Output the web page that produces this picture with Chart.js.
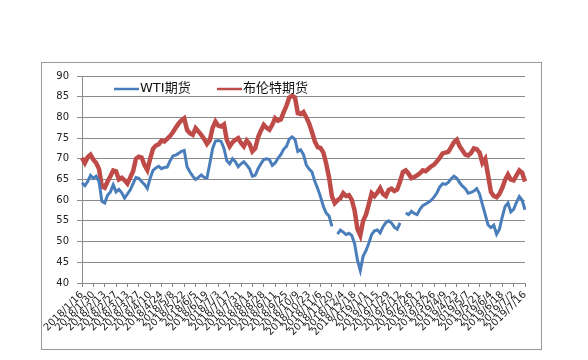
<!DOCTYPE html>
<html>
<head>
<meta charset="utf-8">
<script src="https://cdn.jsdelivr.net/npm/chart.js@4.4.1/dist/chart.umd.min.js"></script>
<style>
  body { margin: 0; background: #fff; }
  canvas { display: block; background: #fff; }
</style>
</head>
<body>
<canvas id="oilChart" width="588" height="360"></canvas>
<script>
// --- Datos ---
// Etiquetas del eje X (cada 2 semanas)
const tickLabels = [
    '2018/1/16', '2018/1/30', '2018/2/13', '2018/2/27', '2018/3/13', '2018/3/27', '2018/4/10', '2018/4/24',
    '2018/5/8', '2018/5/22', '2018/6/5', '2018/6/19', '2018/7/3', '2018/7/17', '2018/7/31', '2018/8/14',
    '2018/8/28', '2018/9/11', '2018/9/25', '2018/10/9', '2018/10/23', '2018/11/6', '2018/11/20', '2018/12/4',
    '2018/12/18', '2019/1/1', '2019/1/15', '2019/1/29', '2019/2/12', '2019/2/26', '2019/3/12', '2019/3/26',
    '2019/4/9', '2019/4/23', '2019/5/7', '2019/5/21', '2019/6/4', '2019/6/18', '2019/7/2', '2019/7/16'
];
const pointsPerTick = 4; // puntos de datos entre dos etiquetas

const seriesNames = ['WTI期货', '布伦特期货'];

// WTI (null = día sin cotización)
const wtiValues = [
    64.2, 63.5, 64.5, 66.0, 65.3, 65.8, 64.5, 59.7, 59.3, 61.2,
    62.0, 63.7, 62.0, 62.6, 61.8, 60.5, 61.5, 62.5, 64.0, 65.5,
    65.3, 64.5, 63.8, 62.8, 65.3, 67.2, 67.8, 68.2, 67.6, 67.9,
    68.0, 69.5, 70.7, 70.9, 71.3, 71.8, 72.0, 68.1, 66.8, 65.8,
    65.0, 65.5, 66.1, 65.5, 65.4, 68.8, 72.5, 74.3, 74.4, 74.2,
    72.5, 69.5, 68.8, 70.0, 69.3, 68.1, 68.8, 69.3, 68.5, 67.6,
    65.8, 66.0, 67.6, 68.8, 69.8, 70.0, 69.8, 68.4, 69.0, 70.1,
    71.0, 72.3, 73.0, 74.8, 75.3, 74.7, 71.8, 72.2, 71.0, 68.5,
    67.5, 66.8, 64.5, 62.8, 60.8, 58.5, 56.9, 56.2, 53.7, null,
    51.8, 52.8, 52.3, 51.7, 52.0, 51.5, 49.5, 45.5, 43.0, 46.5,
    47.8, 49.6, 51.7, 52.6, 52.8, 52.1, 53.6, 54.6, 55.0, 54.5,
    53.5, 53.0, 54.5, null, 56.9, 56.5, 57.3, 56.8, 56.5, 57.8,
    58.7, 59.1, 59.5, 60.0, 60.8, 61.8, 63.2, 64.0, 63.8, 64.3,
    65.2, 65.8, 65.3, 64.2, 63.4, 62.8, 61.7, 61.9, 62.2, 62.8,
    61.5, 59.0, 56.5, 54.0, 53.4, 54.0, 51.8, 53.0, 56.0, 58.5,
    59.3, 57.2, 57.8, 59.5, 60.9, 60.0, 57.7
];

// Brent
const brentValues = [
    70.2, 69.0, 70.4, 71.0, 69.8, 69.0, 67.5, 63.3, 63.0, 64.5,
    65.8, 67.2, 67.0, 65.0, 65.4, 64.8, 64.0, 65.5, 67.0, 70.0,
    70.5, 70.3, 68.5, 67.3, 70.0, 72.4, 73.2, 73.5, 74.4, 74.2,
    74.8, 75.5, 76.4, 77.5, 78.5, 79.3, 79.8, 77.0, 76.2, 75.8,
    77.4, 76.6, 75.8, 74.8, 73.6, 74.5, 77.5, 79.0, 78.0, 77.8,
    78.3, 74.5, 73.0, 74.0, 74.6, 75.0, 73.8, 73.0, 74.4, 73.6,
    71.8, 72.5, 75.2, 76.8, 78.2, 77.5, 77.0, 78.2, 79.8, 79.2,
    79.5, 81.2, 82.8, 84.8, 85.2, 84.8, 81.0, 80.8, 81.3, 80.0,
    78.5, 76.4, 74.2, 72.8, 72.6, 71.5, 68.8, 65.5, 61.0, 59.3,
    60.0, 60.5, 61.7, 61.0, 61.2, 60.1, 57.5, 53.0, 51.5, 55.0,
    56.5, 59.0, 61.7, 61.0, 61.8, 62.9, 61.5, 61.0, 62.5, 62.8,
    62.2, 62.6, 64.5, 66.8, 67.2, 66.4, 65.3, 65.6, 66.0, 66.5,
    67.2, 67.0, 67.6, 68.2, 68.6, 69.4, 70.3, 71.3, 71.5, 71.7,
    72.8, 74.0, 74.6, 73.0, 72.0, 71.0, 70.8, 71.4, 72.5, 72.3,
    71.5, 69.0, 70.0, 66.0, 62.0, 61.0, 60.7, 61.5, 63.0, 64.9,
    66.2, 65.0, 64.8, 66.0, 67.2, 66.6, 64.5
];

const yMin = 40;
const yMax = 90;
const yStep = 5;

// Categorías: una por punto, con la fecha sólo donde va una etiqueta
const categories = wtiValues.map((_, i) => (i % pointsPerTick === 0 ? tickLabels[i / pointsPerTick] : ''));

const axisFont = { family: '"DejaVu Sans", sans-serif', size: 10 };

// --- Plugins ---
// Marco exterior del gráfico (estilo Excel)
const framePlugin = {
    id: 'outerFrame',
    afterDraw(chart) {
        const c = chart.ctx;
        c.save();
        c.strokeStyle = '#9a9a9a';
        c.lineWidth = 1;
        c.strokeRect(41.5, 62.5, 500, 287);
        c.restore();
    }
};

// Leyenda dentro del área del gráfico
const insideLegendPlugin = {
    id: 'insideLegend',
    afterDatasetsDraw(chart) {
        const c = chart.ctx;
        const area = chart.chartArea;
        const offsets = [32, 135];
        const y = area.top + 13;
        c.save();
        c.font = '13px "DejaVu Sans", "Noto Sans CJK SC", sans-serif';
        c.textBaseline = 'middle';
        chart.data.datasets.forEach((ds, i) => {
            const x = area.left + offsets[i];
            c.strokeStyle = ds.borderColor;
            c.lineWidth = 2.5;
            c.beginPath();
            c.moveTo(x, y);
            c.lineTo(x + 25, y);
            c.stroke();
            c.fillStyle = '#111';
            c.fillText(ds.label, x + 26, y);
        });
        c.restore();
    }
};

// --- Gráfico ---
const chartCtx = document.getElementById('oilChart').getContext('2d');
const oilChart = new Chart(chartCtx, {
    type: 'line',
    data: {
        labels: categories,
        datasets: [
            { label: seriesNames[0], data: wtiValues, borderColor: '#4A7EBB', borderWidth: 3, pointRadius: 0 },
            { label: seriesNames[1], data: brentValues, borderColor: '#BE4B48', borderWidth: 4.5, pointRadius: 0 }
        ]
    },
    options: {
        responsive: false,
        animation: false,
        layout: { padding: { left: 0, top: 76, right: 63, bottom: 0 } },
        plugins: {
            legend: { display: false },
            tooltip: { enabled: false }
        },
        scales: {
            x: {
                border: { color: '#8a8a8a' },
                grid: { drawOnChartArea: false, tickLength: 4, color: '#8a8a8a' },
                ticks: {
                    autoSkip: false,
                    minRotation: 45,
                    maxRotation: 45,
                    padding: 2,
                    color: '#222',
                    font: axisFont,
                    callback: function (v) {
                        const label = this.getLabelForValue(v);
                        return label === '' ? null : label;
                    }
                },
                afterFit: s => { s.height = 77; }
            },
            y: {
                min: yMin,
                max: yMax,
                border: { color: '#8a8a8a' },
                grid: { color: '#8a8a8a', tickLength: 5 },
                ticks: { stepSize: yStep, padding: 8, color: '#222', font: axisFont },
                afterFit: s => { s.width = 82; }
            }
        }
    },
    plugins: [framePlugin, insideLegendPlugin]
});
</script>
</body>
</html>
